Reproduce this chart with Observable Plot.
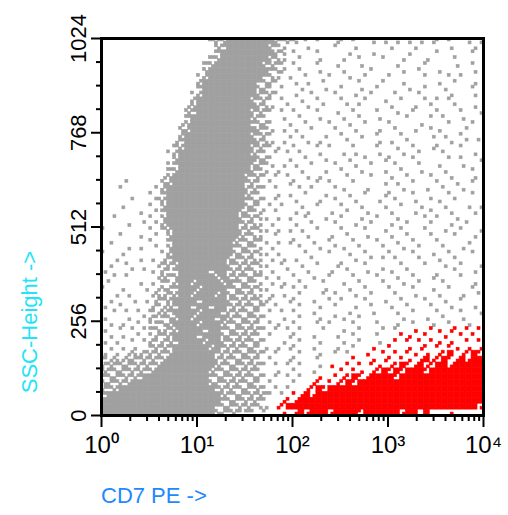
<!DOCTYPE html>
<html><head><meta charset="utf-8">
<script src="https://cdn.jsdelivr.net/npm/d3@7"></script>
<script src="https://cdn.jsdelivr.net/npm/@observablehq/plot@0.6"></script>
<style>body{margin:0;background:#fff;font-family:"Liberation Sans",Arial,sans-serif}</style>
</head><body><div id="chart"></div>
<script>
// Density bitmap: 64 columns (log10 CD7 PE 0..4, 16 per decade) x 64 rows (SSC 1024..0, 16 per row)
// '.' empty, 's' single gray dot, 'h' two gray dots, 'g' dense gray, 'q' single red dot, 'r' dense red
const bitmap = [
"........ ........ ..hhhggg ggggghhh h.s.s..s s.s..s.s .s.s.s.s s.s..s.s",
"........ ........ ...hhggg gggghhs. ..s....s ..s..... s...s... ..s...s.",
"........ ........ ...hgggg ggggghh. s...s... .s...s.. ...s.... s.....s.",
"........ ........ ..hhgggg gggghhs. .s..s... s..s...s ..s...s. ...s....",
"........ ........ .hhggggg ggghhhs. s...s..s ...s.... .s....s. ...s..s.",
"........ ........ .hgggggg gggghhh. .s..s... s....s.. ..s..s.. s.....s.",
"........ ........ shgggggg ggghhs.s ..s...s. .s..s... s.....s. ..s.s...",
"........ ........ hggggggg gghhhs.. s.s..s.. ...s...s ..s..... s..s..s.",
"........ ........ hggggggg gghhs.s. .s...s.. s..s..s. ...s..s. .s....s.",
"........ .......s hggggggg gghhhs.. s..s...s ..s..s.. .s...s.. ..s...s.",
"........ .......h gggggggg ghhhs.s. .s..s... s...s..s ..s...s. s.s.....",
"........ ......sh gggggggg gghhs..s ..s..s.. .s.s.... s...s..s ...s..s.",
"........ ......hh gggggggg ghhhs.s. s...s..s ..s...s. .s..s... s...s..s",
"........ ......hg gggggggg ghhs..s. .s..s... s..s..s. ...s...s .s..s...",
"........ .....shg gggggggg ghhhs..s ..s...s. .s..s... s....s.. ..s...s.",
"........ .....hhg gggggggg gghhs.s. s..s...s ..s...s. .s..s..s s....s..",
"........ .....hgg gggggggg ghhhs..s .s...s.. s..s..s. ..s....s .s..s...",
"........ ....shgg gggggggg gghhs.s. ..s.s... .s....s. s..s.... ..s..s.s",
"........ ....hhgg gggggggg ghhhss.. s...s.s. ..s...s. .s..s..s s...s...",
"........ ...shggg gggggggg ghhs.s.s .s..s... s.s...s. ..s..s.. .s....s.",
"........ ....hggg gggggggg gghhs..s ..s..s.. .s..s..s s...s... ..s.s..s",
"........ ...shggg gggggggg ghhhs.s. s..s...s ..s..s.. .s...s.. s...s...",
"........ ...hhggg gggggggg ghhs.s.. .s...s.. s..s...s ..s..s.. .s....s.",
"........ ..shgggg gggggggg hhhs.s.s ..s.s... .s...s.. s..s...s ..s...s.",
"....s... ..hhgggg gggggggg hhs.s..s s...s.s. ..s....s .s..s... s..s..s.",
"...s.... .shggggg gggggggg hhhs.s.. .s.s...s s...s... ..s...s. .s..s...",
"........ s.hggggg gggggggg hhs..s.s ..s..s.. .s..s..s s...s... ..s...s.",
".....s.. .hhggggg gggggggg hhhs.s.. s...s..s ..s...s. .s..s..s s..s....",
"...s.... s.hggggg gggggggg hhs.s.s. .s..s... s..s...s ..s..s.. .s...s.s",
"......s. .shggggg gggggggh hhss.s.. s.s...s. .s..s... s...s..s ..s...s.",
"..s..... s.hggggg gggggggh hhhs.s.s ..s..s.. s..s..s. .s....s. s..s....",
"....s..s .shggggg gggggggh hhs.s... s..s...s ..s..s.. s..s...s ..s..s..",
"s....... s.hhgggg gggggggh hhhs.s.s .s..s... s...s..s ..s...s. .s..s..s",
"...s..s. .s.hgggg gggggggh hhs..s.. ..s...s. .s..s... s..s...s ...s..s.",
".s...... s..hgggg gggggghh hhhs.s.s s..s..s. ..s...s. .s..s... s....s..",
"....s.s. .s.hgggg gggggghh hhs.s... .s..s..s s..s...s ..s..s.. .s..s...",
"s..s.... ..shgggg gggggghh hhhs.s.. ..s...s. .s..s... s...s..s ..s...s.",
"..s...s. s.shgggg ggggghhh hhs.s.s. s..s.... ..s..s.s .s...s.. s..s....",
".s..s... .shhhggg ggggghhh hhhs..s. .s..s..s s...s... ..s...s. .s..s..s",
"s....s.s s.hshggg gghgghhh hhs.s..s ..s...s. .s..s..s s..s.... ...s..s.",
"..s.s... .shhhggg ggghghhh hhhs.s.. s..s..s. ..s...s. .s..s..s s...s...",
".s....s. s.hshggh gggghghh hhs.s.s. .s...s.. s..s...s ..s..s.. .s....s.",
"s..s...s .shhhggg hgggghhh hhhs..s. s.s..s.. .s..s... s...s..s ..s...s.",
"..s.s... shshhggh ggghghhh hhs.s.s. .s...s.s ..s..s.. .s..s... s...s..s",
".s...s.s .hhhgggg hgggghhh hhhss..s s..s..s. s...s..s ..s...s. .s..s...",
"s..s.... shshhggh gghgghhh hhhs.s.. .s..s..s ..s..s.. s..s...s ..s...s.",
"..s.s.s. hshhgggg hggghhhh hhs.s.s. s..s.... .s...s.. .s..s... s...s..s",
"s...s..s hshhhggh ggghghhh hhhs..s. .s..s..s s..s.... ..s...s. .s..s...",
".s.s..s. shhhgggg hggghhhh hhs.ss.. s...s.s. ..s...s. .s..s..s ..s..s..",
"s..s.s.s hhshhggg ghgghhhh hhhs.s.s .s...s.. s..s...s .s..q..q q.qq.q.q",
".s.s..s. shhhgggg hggghhhh hhs.s..s s..s...s ..s...s. ..qq..q. .q..q.q.",
"s.s..s.s hshhhggg ghgghhhh hhhs..s. .s..s... s..s..s. .q.q.q.q q.q..q.q",
".s.s.s.. hhhhgggg gghghhhh hhss.s.s s..s...s ..s..q.. q..q.qq. q.qq.q.q",
"s.s.shsh hhhhgggg ggghhhhh hhhs.s.. .s..s..s .s..q..q .q.qq.q. qqr.qqrq",
"hshshhhh hhhggggg ggghhhhh hhs.s..s s...s... ..q..q.q q.qq.qrq qrqqrqrr",
"hhhhhhhh hhgggggg ggghhhhh hhhs.s.s .s..s.q. .q.q.qq. qqrqqrqq rrqrrrrr",
"hhhhhhhh hggggggg gghhhhhh hhs..s.. s..s.... q.qq.qqr qrqrrrqr rrrrrrrr",
"hhhhhhhg gggggggg gghhhhhh hhhs.s.s .s..q..q qqrqqrrr rqrrrrrr rrrrrrrr",
"hhhhhggg gggggggg gghhhhhh hhs.s... s..qq.qq qrqrrrrr rrrrrrrr rrrrrrrr",
"hhhggggg gggggggg ggghhhhh hhhs.s.s ..qqrqrr rrrrrrrr rrrrrrrr rrrrrrrr",
"hggggggg gggggggg gggghhhh hhhhs.s. qqrqrrrr rrrrrrrr rrrrrrrr rrrrrrrr",
"gggggggg gggggggg gggghhhh hhhs..qq qrrrrrrr rrrrrrrr rrrrrrrr rrrrrrrr",
"gggggggg gggggggg ggghhhhh hhhs.qqr rrrrrrrr rrrrrrrr rrrrrrrr rrrrrrrq",
"gggggggg gggggggg ggghhhhs hs.s..q. qrqrrrqr rrrqrrrr rrqrr.r. ..q....."
];
const xTicks = [1, 10, 100, 1000, 10000];
const xTickLabels = ["10⁰", "10¹", "10²", "10³", "10⁴"];
const yTicks = [0, 256, 512, 768, 1024];
const yTickLabels = ["0", "256", "512", "768", "1024"];
const yMinor = [64,128,192,320,384,448,576,640,704,832,896,960];
const xMinor = [2,3,4,5,6,7,8,9,20,30,40,50,60,70,80,90,200,300,400,500,600,700,800,900,2000,3000,4000,5000,6000,7000,8000,9000];
const GRAY = "#a0a0a0", RED = "#ff0000";

const rects = [];
bitmap.forEach((line, r) => {
  const row = line.replace(/ /g, "");
  for (let c = 0; c < row.length; c++) {
    const ch = row[c];
    if (ch === ".") continue;
    const color = (ch === "r" || ch === "q") ? RED : GRAY;
    const L = c / 16, H = (c + 1) / 16, M = (c + 0.5) / 16;
    const yt = 1024 - r * 16, yb = yt - 16, ym = yt - 8;
    const alt = (r * 3 + c) % 2 === 0;
    const tl = {x1: 10 ** L, x2: 10 ** M, y1: ym, y2: yt, color};
    const br = {x1: 10 ** M, x2: 10 ** H, y1: yb, y2: ym, color};
    const tr = {x1: 10 ** M, x2: 10 ** H, y1: ym, y2: yt, color};
    const bl = {x1: 10 ** L, x2: 10 ** M, y1: yb, y2: ym, color};
    if (ch === "g" || ch === "r") rects.push({x1: 10 ** L, x2: 10 ** H, y1: yb, y2: yt, color});
    else if (ch === "h") { if ((r + c) % 3 === 0) rects.push(tl, tr); else if (alt) rects.push(tl, br); else rects.push(tr, bl); }
    else rects.push(alt ? tl : br);
  }
});

const plot = Plot.plot({
  width: 508, height: 515,
  marginLeft: 101, marginRight: 25, marginTop: 38, marginBottom: 100,
  style: {fontFamily: "Liberation Sans, Arial, sans-serif", overflow: "visible"},
  x: {type: "log", domain: [1, 10000], axis: null},
  y: {domain: [0, 1024], axis: null},
  marks: [
    Plot.rect(rects, {x1: "x1", x2: "x2", y1: "y1", y2: "y2", fill: "color", stroke: "color", strokeWidth: 0.6}),
    Plot.frame({stroke: "#000", strokeWidth: 3}),
    Plot.axisX(xTicks, {anchor: "bottom", tickSize: 12, strokeWidth: 2, tickFormat: (d) => xTickLabels[xTicks.indexOf(d)], fontSize: 24, tickPadding: 8, label: null}),
    Plot.axisX(xMinor, {anchor: "bottom", tickSize: 6, strokeWidth: 2, tickFormat: () => "", label: null}),
    Plot.axisY(yTicks, {anchor: "left", tickSize: 10, strokeWidth: 2, tickRotate: -90, fontSize: 22, tickPadding: 6, label: null, tickFormat: (d) => yTickLabels[yTicks.indexOf(d)]}),
    Plot.axisY(yMinor, {anchor: "left", tickSize: 5, strokeWidth: 2, tickFormat: () => "", label: null})
  ]
});
const wrap = document.getElementById("chart");
wrap.style.position = "relative";
wrap.appendChild(plot);
const ylab = document.createElement("div");
ylab.textContent = "SSC-Height ->";
ylab.style.cssText = "position:absolute;left:30px;top:322px;transform:translate(-50%,-50%) rotate(-90deg);color:#22e4f8;font-size:22px;white-space:nowrap";
wrap.appendChild(ylab);
const xlab = document.createElement("div");
xlab.textContent = "CD7 PE ->";
xlab.style.cssText = "position:absolute;left:101px;top:483px;color:#1e88ff;font-size:22px;white-space:nowrap";
wrap.appendChild(xlab);
</script></body></html>
